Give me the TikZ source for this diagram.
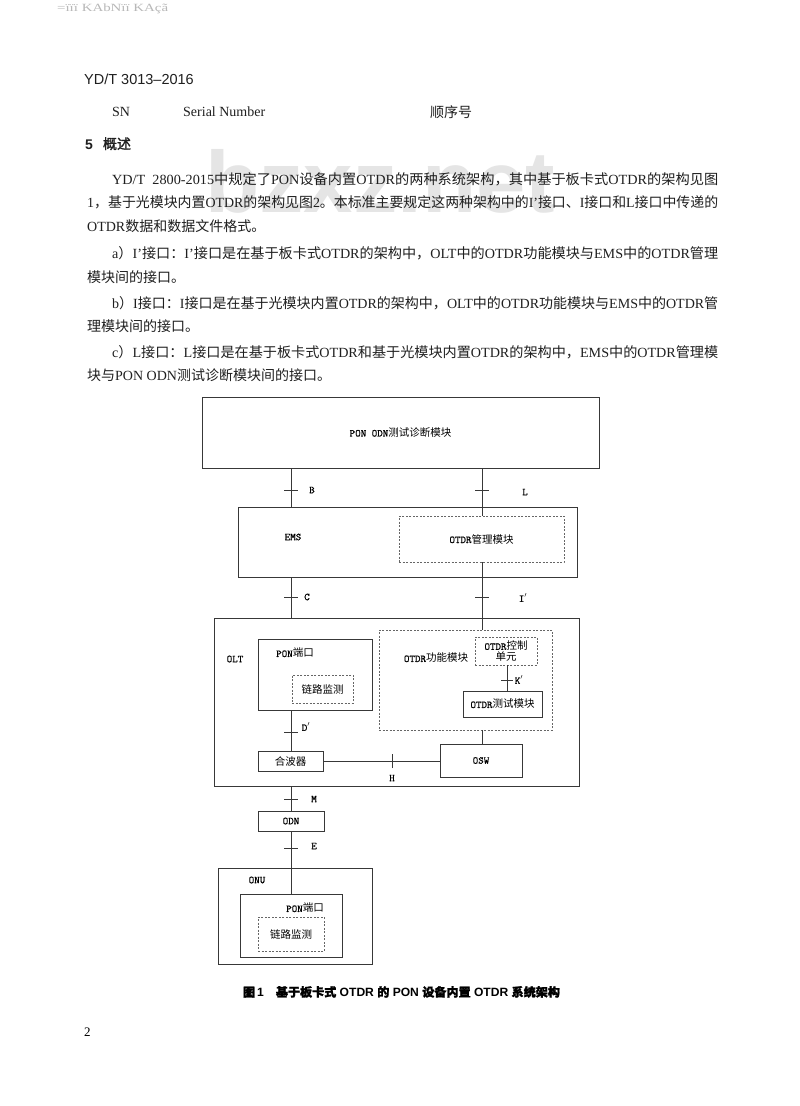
\documentclass[tikz,border=0pt]{standalone}
\usepackage{fontspec}
\usepackage{graphicx}
\setmainfont{Liberation Serif}
\newfontfamily\cjk{Noto Sans CJK SC}
\newfontfamily\cjkbold[FakeBold=1.5]{Noto Sans CJK SC}
\newfontfamily\hsans{Liberation Sans}
\newfontfamily\dmono[FakeBold=0.8]{Latin Modern Mono}
\newcommand\bcjk[1]{{\cjk #1}}
\newcommand\hb[1]{{\cjkbold #1}}
\newcommand\dlat[1]{{\dmono\bfseries\fontsize{10.5}{12}\selectfont #1}}
\newcommand\dcjk[1]{{\cjk\fontsize{10.5}{12}\selectfont #1}}
\newcommand\fitto[2]{\resizebox{#1}{\height}{#2}}
\begin{document}
\begin{tikzpicture}[x=1pt,y=-1pt,
  box/.style={draw=black!78, line width=0.8pt, inner sep=0pt},
  dbox/.style={draw=black!60, line width=0.7pt, dash pattern=on 2pt off 1.5pt, inner sep=0pt},
  wire/.style={draw=black!78, line width=0.8pt},
  tickmark/.style={draw=black!78, line width=0.8pt},
  lab/.style={inner sep=0pt},
  body/.style={anchor=base west, inner sep=0pt, font=\fontsize{14}{17}\selectfont, text=black!88},
  wm/.style={anchor=base west, inner sep=0pt, text=black!10, font=\hsans\bfseries\fontsize{87}{87}\selectfont}]
\fill[white] (0,0) rectangle (800,1106);
\useasboundingbox (0,0) rectangle (800,1106);

% watermark and scan artefact
\node[wm] (wm) at (205,212) {\fitto{350pt}{bzxz.net}};
\node[anchor=base west, inner sep=0pt, text=black!28, font=\fontsize{11}{12}\selectfont] (junk) at (57,11) {\fitto{111pt}{=ïïï KAbNïï KAçã}};

% header
\node[anchor=base west, inner sep=0pt, font=\hsans\fontsize{14.5}{17}\selectfont, text=black!88] (hdr) at (84,84.5) {YD/T 3013–2016};
\node[body] (sn) at (112,116.5) {SN};
\node[body] (snen) at (183,116.5) {Serial Number};
\node[body] (sncn) at (430,117) {\bcjk{顺序号}};
\node[body] (sec) at (85,149) {{\hsans\bfseries 5}\hspace{10pt}\hb{概述}};

% body text
\node[body] (l1) at (112,184.5) {\fitto{606pt}{YD/T\ \ 2800-2015\bcjk{中规定了}PON\bcjk{设备内置}OTDR\bcjk{的两种系统架构，其中基于板卡式}OTDR\bcjk{的架构见图}}};
\node[body] (l2) at (87,207.5) {\fitto{631pt}{1\bcjk{，基于光模块内置}OTDR\bcjk{的架构见图}2\bcjk{。本标准主要规定这两种架构中的}I'\bcjk{接口、}I\bcjk{接口和}L\bcjk{接口中传递的}}};
\node[body] (l3) at (87,231.5) {OTDR\bcjk{数据和数据文件格式。}};
\node[body] (l4) at (112,258.5) {\fitto{606pt}{a\bcjk{）}I'\bcjk{接口：}I'\bcjk{接口是在基于板卡式}OTDR\bcjk{的架构中，}OLT\bcjk{中的}OTDR\bcjk{功能模块与}EMS\bcjk{中的}OTDR\bcjk{管理}}};
\node[body] (l5) at (87,282.5) {\bcjk{模块间的接口。}};
\node[body] (l6) at (112,308.5) {\fitto{606pt}{b\bcjk{）}I\bcjk{接口：}I\bcjk{接口是在基于光模块内置}OTDR\bcjk{的架构中，}OLT\bcjk{中的}OTDR\bcjk{功能模块与}EMS\bcjk{中的}OTDR\bcjk{管}}};
\node[body] (l7) at (87,331.5) {\bcjk{理模块间的接口。}};
\node[body] (l8) at (112,357.5) {\fitto{606pt}{c\bcjk{）}L\bcjk{接口：}L\bcjk{接口是在基于板卡式}OTDR\bcjk{和基于光模块内置}OTDR\bcjk{的架构中，}EMS\bcjk{中的}OTDR\bcjk{管理模}}};
\node[body] (l9) at (87,380.5) {\bcjk{块与}PON ODN\bcjk{测试诊断模块间的接口。}};

% diagram boxes
\node[box, minimum width=397pt, minimum height=71pt] (pon) at (400.5,432.5) {\dlat{PON ODN}\dcjk{测试诊断模块}};
\node[box, minimum width=339pt, minimum height=70pt] (ems) at (407.5,542) {};
\node[lab] (emsl) at (293,537) {\dlat{EMS}};
\node[dbox, minimum width=165pt, minimum height=46pt] (mgr) at (481.5,539) {\dlat{OTDR}\dcjk{管理模块}};

\node[box, minimum width=365pt, minimum height=168pt] (olt) at (396.5,702) {};
\node[lab] (oltl) at (235,659) {\dlat{OLT}};
\node[box, minimum width=114pt, minimum height=71pt] (ponp) at (315,674.5) {};
\node[lab] (ponpl) at (295,653) {\dlat{PON}\dcjk{端口}};
\node[dbox, minimum width=61pt, minimum height=28pt] (lm1) at (322.5,689) {\dcjk{链路监测}};
\node[dbox, minimum width=173pt, minimum height=100pt] (func) at (465.5,680) {};
\node[lab] (funcl) at (436,658) {\dlat{OTDR}\dcjk{功能模块}};
\node[dbox, minimum width=62pt, minimum height=28pt, align=center, font=\linespread{0.95}\selectfont] (ctrl) at (506,651) {\dlat{OTDR}\dcjk{控制}\\[-1pt]\dcjk{单元}};
\node[box, minimum width=79pt, minimum height=26pt] (test) at (502.5,704) {\dlat{OTDR}\dcjk{测试模块}};
\node[box, minimum width=82pt, minimum height=33pt] (osw) at (481,760.5) {\dlat{OSW}};
\node[box, minimum width=65pt, minimum height=20pt] (mux) at (290.5,761) {\dcjk{合波器}};

\node[box, minimum width=66pt, minimum height=20pt] (odn) at (291,821) {\dlat{ODN}};
\node[box, minimum width=154pt, minimum height=96pt] (onu) at (295,916) {};
\node[lab] (onul) at (257,880) {\dlat{ONU}};
\node[box, minimum width=102pt, minimum height=63pt] (ponp2) at (291,925.5) {};
\node[lab] (ponp2l) at (305,908) {\dlat{PON}\dcjk{端口}};
\node[dbox, minimum width=66pt, minimum height=34pt] (lm2) at (291,934) {\dcjk{链路监测}};

% connectors
\coordinate (cl) at (291,0);
\coordinate (cr) at (482,0);
\coordinate (ck) at (507,0);
\draw[wire] (cl |- pon.south) -- (cl |- ems.north);
\draw[wire] (cr |- pon.south) -- (cr |- mgr.north);
\draw[wire] (cl |- ems.south) -- (cl |- olt.north);
\draw[wire] (cr |- mgr.south) -- (cr |- func.north);
\draw[wire] (cl |- ponp.south) -- (cl |- mux.north);
\draw[wire] (cr |- func.south) -- (cr |- osw.north);
\draw[wire] (mux.east) -- (mux.east -| osw.west);
\draw[wire] (cl |- olt.south) -- (cl |- odn.north);
\draw[wire] (odn.south) -- (ponp2.north);
\draw[wire] (ck |- ctrl.south) -- (ck |- test.north);

% interface ticks
\coordinate (tB) at (291,490);
\coordinate (tL) at (482,490);
\coordinate (tC) at (291,597);
\coordinate (tI) at (482,597);
\coordinate (tK) at (507,680);
\coordinate (tD) at (291,732);
\coordinate (tM) at (291,799);
\coordinate (tE) at (291,848);
\coordinate (tH) at (392,761);
\foreach \t in {tB,tL,tC,tI,tD,tM,tE}
  \draw[tickmark] ([xshift=-7pt]\t) -- ([xshift=7pt]\t);
\draw[tickmark] ([xshift=-6pt]tK) -- ([xshift=6pt]tK);
\draw[tickmark] ([yshift=-7pt]tH) -- ([yshift=7pt]tH);

\node[lab] (lB) at (312,490) {\dlat{B}};
\node[lab] (lL) at (525,492) {\dlat{L}};
\node[lab] (lC) at (307,597) {\dlat{C}};
\node[lab] (lI) at (523,598) {\dlat{I$'$}};
\node[lab] (lK) at (519,680) {\dlat{K$'$}};
\node[lab] (lD) at (306,727) {\dlat{D$'$}};
\node[lab] (lH) at (392,778) {\dlat{H}};
\node[lab] (lM) at (314,799) {\dlat{M}};
\node[lab] (lE) at (314,846) {\dlat{E}};

% caption and page number
\node[anchor=base, inner sep=0pt, font=\hsans\bfseries\fontsize{12}{14}\selectfont] (cap) at (401.5,996.5)
  {\fitto{317pt}{\hb{图}\,1\hspace{12pt}\hb{基于板卡式} OTDR \hb{的} PON \hb{设备内置} OTDR \hb{系统架构}}};
\node[anchor=base west, inner sep=0pt, font=\fontsize{13}{15}\selectfont] (pg) at (84,1036.5) {2};
\end{tikzpicture}
\end{document}
